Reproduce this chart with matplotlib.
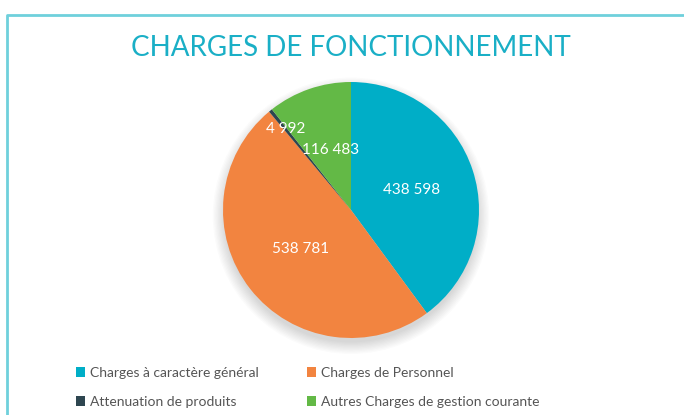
import numpy as np
import matplotlib.pyplot as plt
from matplotlib.lines import Line2D
from matplotlib.patches import Circle

plt.rcParams['font.family'] = ['Lato', 'DejaVu Sans']

# data
categories = ['Charges à caractère général', 'Charges de Personnel',
              'Attenuation de produits', 'Autres Charges de gestion courante']
values = [438598, 538781, 4992, 116483]
value_labels = ['438 598', '538 781', '4 992', '116 483']
colors = ['#00AEC7', '#F28440', '#2E4650', '#63B946']
label_radius = [0.5, 0.5, 0.81, 0.5]

W, H = 684, 415
fig = plt.figure(figsize=(W / 100, H / 100), dpi=100)

# frame line (top and left edge of a box cut by the image)
fig.add_artist(Line2D([7 / W, 7 / W, 1], [0, 1 - 15 / H, 1 - 15 / H],
                      color='#6FD0DC', lw=2, transform=fig.transFigure))

fig.text(351 / W, 1 - 48 / H, 'CHARGES DE FONCTIONNEMENT', ha='center',
         va='center', fontsize=20, color='#1AAFC6')

# pie axes, centre at (351, 210) px, radius 128 px
half = 150
ax = fig.add_axes([(351 - half) / W, (H - 210 - half) / H, 2 * half / W, 2 * half / H])
ax.axis('off')

# soft shadow under the pie
for k in range(10):
    ax.add_patch(Circle((0, -0.045), 0.99 + 0.01 * k, color='#000000',
                        alpha=0.014, lw=0, zorder=0))

wedges, _ = ax.pie(values, colors=colors, startangle=90, counterclock=False,
                   radius=1, wedgeprops=dict(linewidth=0))
for w in wedges:
    w.set_zorder(2)

lim = half / 128
ax.set_xlim(-lim, lim)
ax.set_ylim(-lim, lim)
ax.set_aspect('equal')

for w, txt, r in zip(wedges, value_labels, label_radius):
    mid = np.deg2rad((w.theta1 + w.theta2) / 2)
    ax.text(r * np.cos(mid), r * np.sin(mid), txt, ha='center', va='center',
            color='white', fontsize=11, zorder=3)

# legend filled row by row
order = [0, 2, 1, 3]
leg = fig.legend([wedges[i] for i in order], [categories[i] for i in order],
                 ncol=2, loc='upper left',
                 bbox_to_anchor=(63 / W, 1 - 354 / H), frameon=False,
                 fontsize=10, handlelength=0.7, handleheight=0.7,
                 handletextpad=0.35, columnspacing=3.45, labelspacing=1.25,
                 labelcolor='#555555')

fig.savefig('out.png', dpi=100)
